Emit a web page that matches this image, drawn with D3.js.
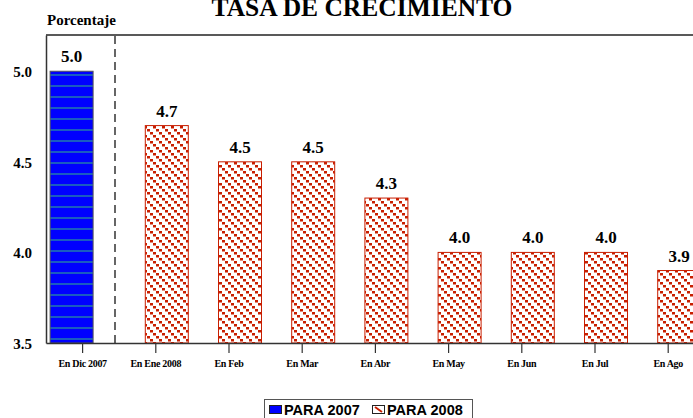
<!DOCTYPE html>
<html>
<head>
<meta charset="utf-8">
<script src="https://cdn.jsdelivr.net/npm/d3@7"></script>
<style>
  body { margin: 0; background: #fff; }
  svg { display: block; }
</style>
</head>
<body>
<div id="chart"></div>
<script>
var categories = ["En Dic 2007", "En Ene 2008", "En Feb", "En Mar", "En Abr", "En May", "En Jun", "En Jul", "En Ago"];
var series = ["PARA 2007", "PARA 2008"];
var values2007 = [5.0, null, null, null, null, null, null, null, null];
var values2008 = [null, 4.7, 4.5, 4.5, 4.3, 4.0, 4.0, 4.0, 3.9];
var yTicks = [3.5, 4.0, 4.5, 5.0];

var width = 693, height = 418;
var margin = { top: 35, left: 46, bottom: 343 };
var catStep = 73.2;
var barW = 44;
var red = "#c81e00";

var svg = d3.select("#chart").append("svg")
    .attr("width", width)
    .attr("height", height);

var defs = svg.append("defs");

// blue bar: solid blue with thin horizontal stripes
var pBlue = defs.append("pattern")
    .attr("id", "blueStripe")
    .attr("patternUnits", "userSpaceOnUse")
    .attr("width", 10).attr("height", 11);
pBlue.append("rect").attr("width", 10).attr("height", 11).attr("fill", "#0000ff");
pBlue.append("rect").attr("y", 8).attr("width", 10).attr("height", 2).attr("fill", "#1a5cc0");

// red bar: white with stepped diagonal lines
var pRed = defs.append("pattern")
    .attr("id", "redDiag")
    .attr("patternUnits", "userSpaceOnUse")
    .attr("width", 9).attr("height", 9);
pRed.append("rect").attr("width", 9).attr("height", 9).attr("fill", "#fff");
[0, 3, 6].forEach(function (k) {
    pRed.append("rect").attr("x", k).attr("y", k).attr("width", 3).attr("height", 2.5).attr("fill", red);
});

var x = d3.scaleBand()
    .domain(categories)
    .range([margin.left, margin.left + catStep * categories.length])
    .padding(0);

var xOff = d3.scalePoint().domain(series).range([-11, 11]);

var y = d3.scaleLinear()
    .domain([3.5, 5.2])
    .range([margin.bottom, margin.top]);

var fills = { "PARA 2007": "url(#blueStripe)", "PARA 2008": "url(#redDiag)" };
var strokes = { "PARA 2007": "#555", "PARA 2008": red };

// title
svg.append("text")
    .attr("x", 362).attr("y", 16)
    .attr("text-anchor", "middle")
    .style("font-family", "'Liberation Serif', 'Times New Roman', serif")
    .style("font-weight", "bold")
    .style("font-size", "25.5px")
    .text("TASA DE CRECIMIENTO");

svg.append("text")
    .attr("x", 47).attr("y", 25)
    .style("font-family", "'Liberation Serif', 'Times New Roman', serif")
    .style("font-weight", "bold")
    .style("font-size", "15px")
    .text("Porcentaje");

// plot frame
svg.append("line")
    .attr("x1", margin.left).attr("x2", width)
    .attr("y1", margin.top).attr("y2", margin.top)
    .attr("stroke", "#222").attr("stroke-width", 1.5);

// dashed separator
svg.append("line")
    .attr("x1", 115).attr("x2", 115)
    .attr("y1", margin.top + 1).attr("y2", margin.bottom)
    .attr("stroke", "#000").attr("stroke-width", 1.2)
    .attr("stroke-dasharray", "8,5");

// bars
var rows = [];
categories.forEach(function (c, i) {
    if (values2007[i] != null) rows.push({ cat: c, s: series[0], v: values2007[i] });
    if (values2008[i] != null) rows.push({ cat: c, s: series[1], v: values2008[i] });
});

var bar = svg.selectAll(".bar")
    .data(rows)
    .enter().append("g")
    .attr("class", "bar");

bar.append("rect")
    .attr("x", function (d) { return x(d.cat) + x.bandwidth() / 2 + xOff(d.s) - barW / 2 + 0.5; })
    .attr("y", function (d) { return y(d.v); })
    .attr("width", barW - 1)
    .attr("height", function (d) { return y(3.5) - y(d.v); })
    .attr("fill", function (d) { return fills[d.s]; })
    .attr("stroke", function (d) { return strokes[d.s]; })
    .attr("stroke-width", 1);

bar.append("text")
    .attr("x", function (d) { return x(d.cat) + x.bandwidth() / 2 + xOff(d.s); })
    .attr("y", function (d) { return y(d.v) - 9; })
    .attr("text-anchor", "middle")
    .style("font-family", "'Liberation Serif', 'Times New Roman', serif")
    .style("font-weight", "bold")
    .style("font-size", "17px")
    .text(function (d) { return d3.format(".1f")(d.v); });

// y axis
var yAxis = svg.append("g")
    .attr("transform", "translate(" + margin.left + ",0)")
    .call(d3.axisLeft(y).tickValues(yTicks).tickSize(0).tickPadding(14).tickFormat(d3.format(".1f")));
yAxis.select(".domain").attr("stroke", "#333").attr("stroke-width", 1.5);
yAxis.selectAll("text")
    .attr("dy", "0.35em")
    .style("font-family", "'Liberation Serif', 'Times New Roman', serif")
    .style("font-weight", "bold")
    .style("font-size", "15px")
    .attr("fill", "#000");

// x axis
var xAxis = svg.append("g")
    .attr("transform", "translate(0," + margin.bottom + ")")
    .call(d3.axisBottom(x).tickSize(10).tickSizeOuter(0).tickPadding(7));
xAxis.select(".domain").attr("stroke", "#333").attr("stroke-width", 1.5);
xAxis.selectAll(".tick line").attr("stroke", "#333").attr("stroke-width", 1.2);
xAxis.selectAll("text")
    .style("font-family", "'Liberation Serif', 'Times New Roman', serif")
    .style("font-weight", "bold")
    .style("font-size", "10px")
    .style("letter-spacing", "-0.3px")
    .attr("fill", "#000");

// legend
var legend = svg.append("g");
legend.append("rect")
    .attr("x", 264.5).attr("y", 399.5)
    .attr("width", 208).attr("height", 30)
    .attr("fill", "#fff").attr("stroke", "#555").attr("stroke-width", 1);

var legX = [269, 372];
series.forEach(function (s, i) {
    legend.append("rect")
        .attr("x", legX[i] + 0.5).attr("y", 405.5)
        .attr("width", 12).attr("height", 8)
        .attr("fill", i === 0 ? "#0000ff" : "#fff")
        .attr("stroke", "#222").attr("stroke-width", 1);
    if (i === 1) {
        legend.append("line")
            .attr("x1", legX[i] + 3).attr("y1", 407)
            .attr("x2", legX[i] + 10).attr("y2", 412)
            .attr("stroke", red).attr("stroke-width", 2);
    }
    legend.append("text")
        .attr("x", legX[i] + 15).attr("y", 414.5)
        .style("font-family", "'Liberation Sans', Arial, sans-serif")
        .style("font-weight", "bold")
        .style("font-size", "14.5px")
        .text(s);
});
</script>
</body>
</html>
